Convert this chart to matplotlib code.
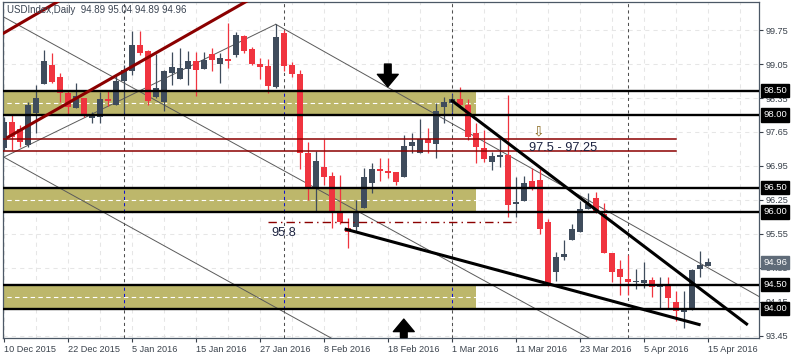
import matplotlib
matplotlib.use("Agg")
import matplotlib.pyplot as plt

plt.rcParams['font.family'] = ['Liberation Sans', 'DejaVu Sans']

# daily bars, 10 Dec 2015 .. 15 Apr 2016 (bar index = position on chart)
opens = [97.32, 97.85, 97.71, 97.38, 98.04, 98.64, 99.03, 98.78, 98.45, 98.14,
         98.35, 97.94, 97.96, 98.33, 98.20, 98.70, 98.90, 99.44, 99.32, 98.37,
         98.27, 98.86, 98.74, 98.95, 99.11, 98.95, 99.26, 99.05, 99.15, 99.23,
         99.63, 99.36, 99.05, 99.01, 98.57, 99.69, 99.03, 98.84, 97.22, 96.49,
         96.92, 96.74, 96.00, 95.67, 95.69, 96.08, 96.60, 96.88, 96.84, 96.82,
         96.72, 97.36, 97.22, 97.50, 97.40, 98.16, 98.24, 98.33, 98.20, 97.63,
         97.32, 97.03, 97.13, 97.17, 96.16, 96.22, 96.64, 96.66, 95.79, 94.76,
         95.07, 95.42, 95.59, 96.06, 96.29, 95.96, 95.15, 94.82, 94.62, 94.55,
         94.53, 94.60, 94.45, 94.47, 94.14, 93.94, 93.98, 94.82, 94.89]
highs = [97.96, 98.00, 97.79, 98.27, 98.62, 99.34, 99.28, 98.86, 98.51, 98.66,
         98.35, 98.06, 98.47, 98.49, 98.80, 99.03, 99.73, 99.73, 99.34, 99.26,
         98.93, 99.30, 99.38, 99.32, 99.30, 99.30, 99.38, 99.28, 99.89, 99.71,
         99.65, 99.40, 99.17, 99.15, 99.87, 99.75, 99.09, 98.93, 97.44, 97.26,
         97.50, 96.82, 96.76, 95.87, 96.24, 96.90, 97.01, 97.11, 97.11, 96.82,
         97.59, 97.63, 97.91, 97.73, 98.24, 98.37, 98.43, 98.57, 98.33, 97.83,
         97.69, 97.24, 97.54, 98.41, 96.72, 96.74, 96.90, 96.88, 95.85, 95.17,
         95.42, 95.75, 96.22, 96.39, 96.41, 96.18, 95.15, 95.01, 95.11, 94.82,
         94.97, 94.66, 94.66, 94.66, 94.37, 94.37, 94.82, 95.19, 95.04]
lows = [97.28, 97.28, 97.34, 97.34, 97.63, 98.64, 98.66, 98.27, 98.00, 98.14,
        97.96, 97.83, 97.83, 98.18, 98.20, 98.04, 98.82, 99.23, 98.20, 98.35,
        98.08, 98.62, 98.74, 98.62, 98.39, 98.95, 98.90, 98.66, 98.97, 99.19,
        99.28, 99.03, 98.74, 98.45, 98.55, 98.90, 98.78, 96.88, 96.24, 96.00,
        96.55, 95.67, 95.75, 95.26, 95.61, 96.08, 96.39, 96.64, 96.70, 96.55,
        96.72, 97.22, 97.22, 97.22, 97.11, 97.83, 98.06, 98.18, 97.48, 97.01,
        97.03, 96.86, 96.92, 95.89, 95.89, 96.22, 96.45, 95.54, 94.47, 94.57,
        95.01, 95.42, 95.59, 96.06, 95.98, 95.15, 94.55, 94.29, 94.29, 94.41,
        94.43, 94.24, 94.02, 94.02, 93.75, 93.61, 93.98, 94.66, 94.89]
closes = [97.85, 97.54, 97.44, 98.20, 98.35, 99.11, 98.68, 98.45, 98.16, 98.39,
          97.98, 98.00, 98.33, 98.29, 98.70, 98.93, 99.44, 99.28, 98.29, 98.55,
          98.90, 98.99, 98.97, 99.11, 98.93, 99.13, 99.13, 99.17, 99.11, 99.64,
          99.32, 99.05, 98.99, 98.60, 99.61, 99.01, 98.84, 97.22, 96.49, 97.05,
          96.72, 96.00, 95.79, 95.59, 96.00, 96.72, 96.88, 96.84, 96.80, 96.62,
          97.36, 97.44, 97.50, 97.42, 98.08, 98.27, 98.33, 98.20, 97.54, 97.34,
          97.09, 97.15, 97.17, 96.14, 96.20, 96.60, 96.49, 95.65, 94.47, 95.07,
          95.13, 95.65, 96.06, 96.16, 95.98, 95.15, 94.76, 94.66, 94.55, 94.57,
          94.60, 94.45, 94.49, 94.22, 93.96, 94.00, 94.80, 94.90, 94.96]

date_labels = ["10 Dec 2015", "22 Dec 2015", "5 Jan 2016", "15 Jan 2016", "27 Jan 2016",
               "8 Feb 2016", "18 Feb 2016", "1 Mar 2016", "11 Mar 2016", "23 Mar 2016",
               "5 Apr 2016", "15 Apr 2016"]
date_label_idx = [0, 8, 16, 24, 32, 40, 48, 56, 64, 72, 80, 88]
month_start_idx = [15, 35, 56, 78]
price_ticks = [99.75, 99.05, 98.35, 97.65, 96.95, 96.25, 95.55, 94.85, 94.15, 93.45]

# drawn objects
levels = [98.50, 98.00, 96.50, 96.00, 94.50, 94.00]
zones = [(98.00, 98.50), (96.00, 96.50), (94.00, 94.50)]
zone_end = 59
target_lines = [97.50, 97.25]
target_end = 84
dashed_level = 95.8
dashed_span = (33, 64)
last_price = 94.96

# trend lines: (bar0, price0, bar1, price1)
red_channel = [(0, 99.69, 10, 100.65), (0.5, 97.54, 32, 100.50)]
grey_lines = [(0, 97.13, 34, 99.87), (34, 99.87, 95, 94.20),
              (-1, 100.11, 75, 93.23), (0, 97.13, 42, 93.30)]
black_trend = [(55.9, 98.31, 93, 93.67), (42.6, 95.65, 87.1, 93.67)]

bull_c = '#3f4c5c'
bear_c = '#f0343f'
zone_c = '#bdb76b'

fig = plt.figure(figsize=(8, 3.6), dpi=100)
ax = fig.add_axes([3 / 800, 22 / 360, 756 / 800, 336 / 360])
ax.set_xlim(-0.1, 94.4)
ax.set_ylim(93.40, 100.33)

# grid
for i in range(0, 95, 4):
    ax.axvline(i, color='#e6e6e6', lw=0.75, ls=(0, (4, 4)), zorder=0)
for p in price_ticks:
    ax.axhline(p, color='#e6e6e6', lw=0.75, ls=(0, (4, 4)), zorder=0)

# month separators
for m in month_start_idx:
    ax.axvline(m, color='#505050', lw=0.75, ls=(0, (3, 3)), zorder=0.5)

# zones
for lo, hi in zones:
    ax.fill_between([-1, zone_end], lo, hi, color=zone_c, lw=0, zorder=1)
    ax.plot([-1, zone_end], [(lo + hi) / 2] * 2, color='white', lw=0.8,
            ls=(0, (4, 3)), zorder=1.2)
    for m in month_start_idx:
        if m < zone_end:
            ax.plot([m, m], [lo, hi], color='#1010d0', lw=0.75, ls=(0, (3, 3)), zorder=1.3)

# grey channel lines
for x0, y0, x1, y1 in grey_lines:
    ax.plot([x0, x1], [y0, y1], color='#5a5a5a', lw=0.7, zorder=2)

# candles
xs = list(range(len(opens)))
cols = [bull_c if c >= o else bear_c for o, c in zip(opens, closes)]
ax.vlines(xs, lows, highs, colors=cols, lw=0.9, zorder=3)
bottoms = [min(o, c) for o, c in zip(opens, closes)]
heights = [max(abs(c - o), 0.03) for o, c in zip(opens, closes)]
ax.bar(xs, heights, bottom=bottoms, width=0.68, color=cols, lw=0, zorder=3.5)

# horizontal levels
for lv in levels:
    ax.axhline(lv, color='black', lw=1.7, zorder=5)
for t in target_lines:
    ax.plot([-1, target_end], [t, t], color='#8b0000', lw=1.1, zorder=5)
ax.plot(dashed_span, [dashed_level] * 2, color='#8b0000', lw=1.0,
        ls=(0, (6, 3, 1, 3)), zorder=5)

# trend lines
for x0, y0, x1, y1 in red_channel:
    ax.plot([x0, x1], [y0, y1], color='#8b0000', lw=2.2, zorder=5)
for x0, y0, x1, y1 in black_trend:
    ax.plot([x0, x1], [y0, y1], color='black', lw=2.2, zorder=5,
            solid_capstyle='butt')

# annotations
ax.text(33.5, 95.57, '95.8', fontsize=9.2, color='#1c2340', va='center', zorder=6)
ax.text(65.6, 97.31, '97.5 - 97.25', fontsize=9.2, color='#1c2340', va='center', zorder=6)
ax.text(66.8, 97.65, '⇩', fontsize=10, color='#8a6a20', ha='center', va='center',
        family=['DejaVu Sans'], zorder=6)
arrow_kw = dict(arrowstyle='simple,head_length=0.45,head_width=0.75,tail_width=0.24',
                fc='black', ec='black', mutation_scale=20, shrinkA=0, shrinkB=0)
ax.annotate('', xy=(48, 98.58), xytext=(48, 99.05), arrowprops=arrow_kw, zorder=7)
ax.annotate('', xy=(50, 93.79), xytext=(50, 93.41), arrowprops=arrow_kw, zorder=7)

# axes styling
for s in ax.spines.values():
    s.set_color('#4c5866')
    s.set_linewidth(0.9)
ax.yaxis.tick_right()
ax.set_yticks(price_ticks)
ax.set_yticklabels([f'{p:.2f}' for p in price_ticks])
ax.set_xticks(date_label_idx)
ax.set_xticklabels(date_labels, ha='left')
ax.tick_params(axis='y', length=3, pad=2, labelsize=6.6, colors='#3a424c')
ax.tick_params(axis='x', length=3, pad=2, labelsize=6.6, colors='#3a424c')

ytr = ax.get_yaxis_transform()
for lv in levels:
    ax.text(1.0055, lv, f'{lv:.2f}', transform=ytr, fontsize=6.8, color='white',
            va='center', ha='left', zorder=10, clip_on=False,
            bbox=dict(boxstyle='square,pad=0.22', fc='black', ec='black'))
ax.text(1.0055, last_price, f'{last_price:.2f}', transform=ytr, fontsize=6.8,
        color='white', va='center', ha='left', zorder=10, clip_on=False,
        bbox=dict(boxstyle='square,pad=0.22', fc='#5f6b78', ec='#5f6b78'))

fig.text(7 / 800, 1 - 10 / 360, 'USDIndex,Daily  94.89 95.04 94.89 94.96',
         fontsize=7, color='#3a4452', va='center', ha='left')

fig.savefig('out.png', dpi=100)
